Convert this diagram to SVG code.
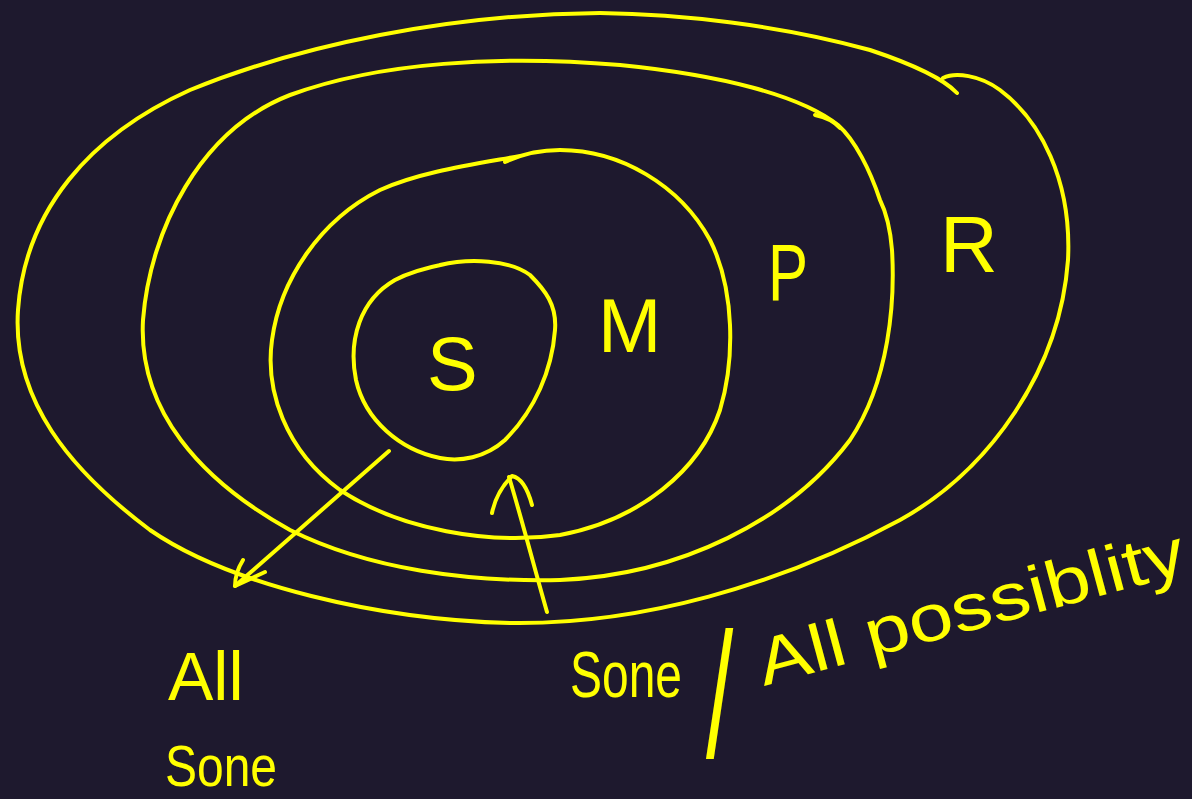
<svg xmlns="http://www.w3.org/2000/svg" width="1192" height="799" viewBox="0 0 1192 799">
<style>
.ln{fill:none;stroke:#ffff00;stroke-width:4;stroke-linecap:round;stroke-linejoin:round}
.t{fill:#ffff00;font-family:"Liberation Sans","DejaVu Sans",sans-serif}
</style>
<rect width="1192" height="799" fill="#1e192e"/>
<g id="R">
<path class="ln" d="M 957 93 C 940 75, 900 60, 870 50 C 780 25, 680 14, 600 13 C 450 14, 300 45, 190 90 C 90 135, 25 210, 18 310 C 12 400, 70 470, 150 530 C 230 585, 380 620, 510 623 C 640 625, 780 585, 900 520 C 990 470, 1060 370, 1068 260 C 1072 180, 1040 120, 1000 90 C 980 75, 955 72, 943 78"/>
<text class="t" x="940" y="272" font-size="80">R</text>
</g>
<g id="P">
<path class="ln" d="M 880 200 C 870 170, 855 140, 838 125 C 800 95, 720 75, 620 65 C 500 55, 380 62, 290 95 C 200 130, 150 230, 143 320 C 138 410, 200 480, 290 530 C 370 570, 470 582, 560 580 C 680 575, 790 520, 850 440 C 890 380, 895 300, 892 250 C 890 225, 885 210, 880 200 Z"/>
<path class="ln" d="M 815 115 C 825 117, 834 121, 840 128"/>
<text class="t" x="768" y="300" font-size="80" textLength="40" lengthAdjust="spacingAndGlyphs">P</text>
</g>
<g id="M">
<path class="ln" d="M 505 162 C 520 155, 540 150, 560 150 C 620 150, 680 185, 710 240 C 735 290, 735 360, 720 410 C 700 470, 640 520, 560 535 C 490 545, 400 530, 340 490 C 285 450, 265 390, 272 340 C 280 280, 320 220, 380 190 C 420 172, 470 165, 520 156"/>
<text class="t" x="598" y="352" font-size="76">M</text>
</g>
<g id="S">
<path class="ln" d="M 440 265 C 470 258, 510 260, 530 275 C 545 290, 557 305, 555 330 C 552 370, 535 410, 505 440 C 485 458, 460 462, 440 458 C 400 450, 365 420, 356 380 C 348 340, 360 300, 395 280 C 410 272, 425 268, 445 264 Z"/>
<text class="t" x="427" y="390" font-size="76">S</text>
</g>
<g id="connectors">
<path class="ln" d="M 389 451 L 235 586"/>
<path class="ln" d="M 243 560 C 238 568, 235 578, 235 586 L 265 572"/>
<path class="ln" d="M 547 612 C 535 570, 522 520, 509 477"/>
<path class="ln" d="M 492 513 C 495 498, 503 485, 512 476 C 522 478, 528 490, 532 505"/>
</g>
<g id="labels">
<text class="t" x="168" y="700" font-size="68">All</text>
<text class="t" x="165" y="786" font-size="58" textLength="112" lengthAdjust="spacingAndGlyphs">Sone</text>
<text class="t" x="570" y="697" font-size="64" textLength="112" lengthAdjust="spacingAndGlyphs">Sone</text>
<text class="t" font-size="178" transform="translate(706 757) scale(0.55 1)">/</text>
<text class="t" x="0" y="0" font-size="66" textLength="440" lengthAdjust="spacingAndGlyphs" transform="translate(764 686) rotate(-15)">All possiblity</text>
</g>
</svg>
